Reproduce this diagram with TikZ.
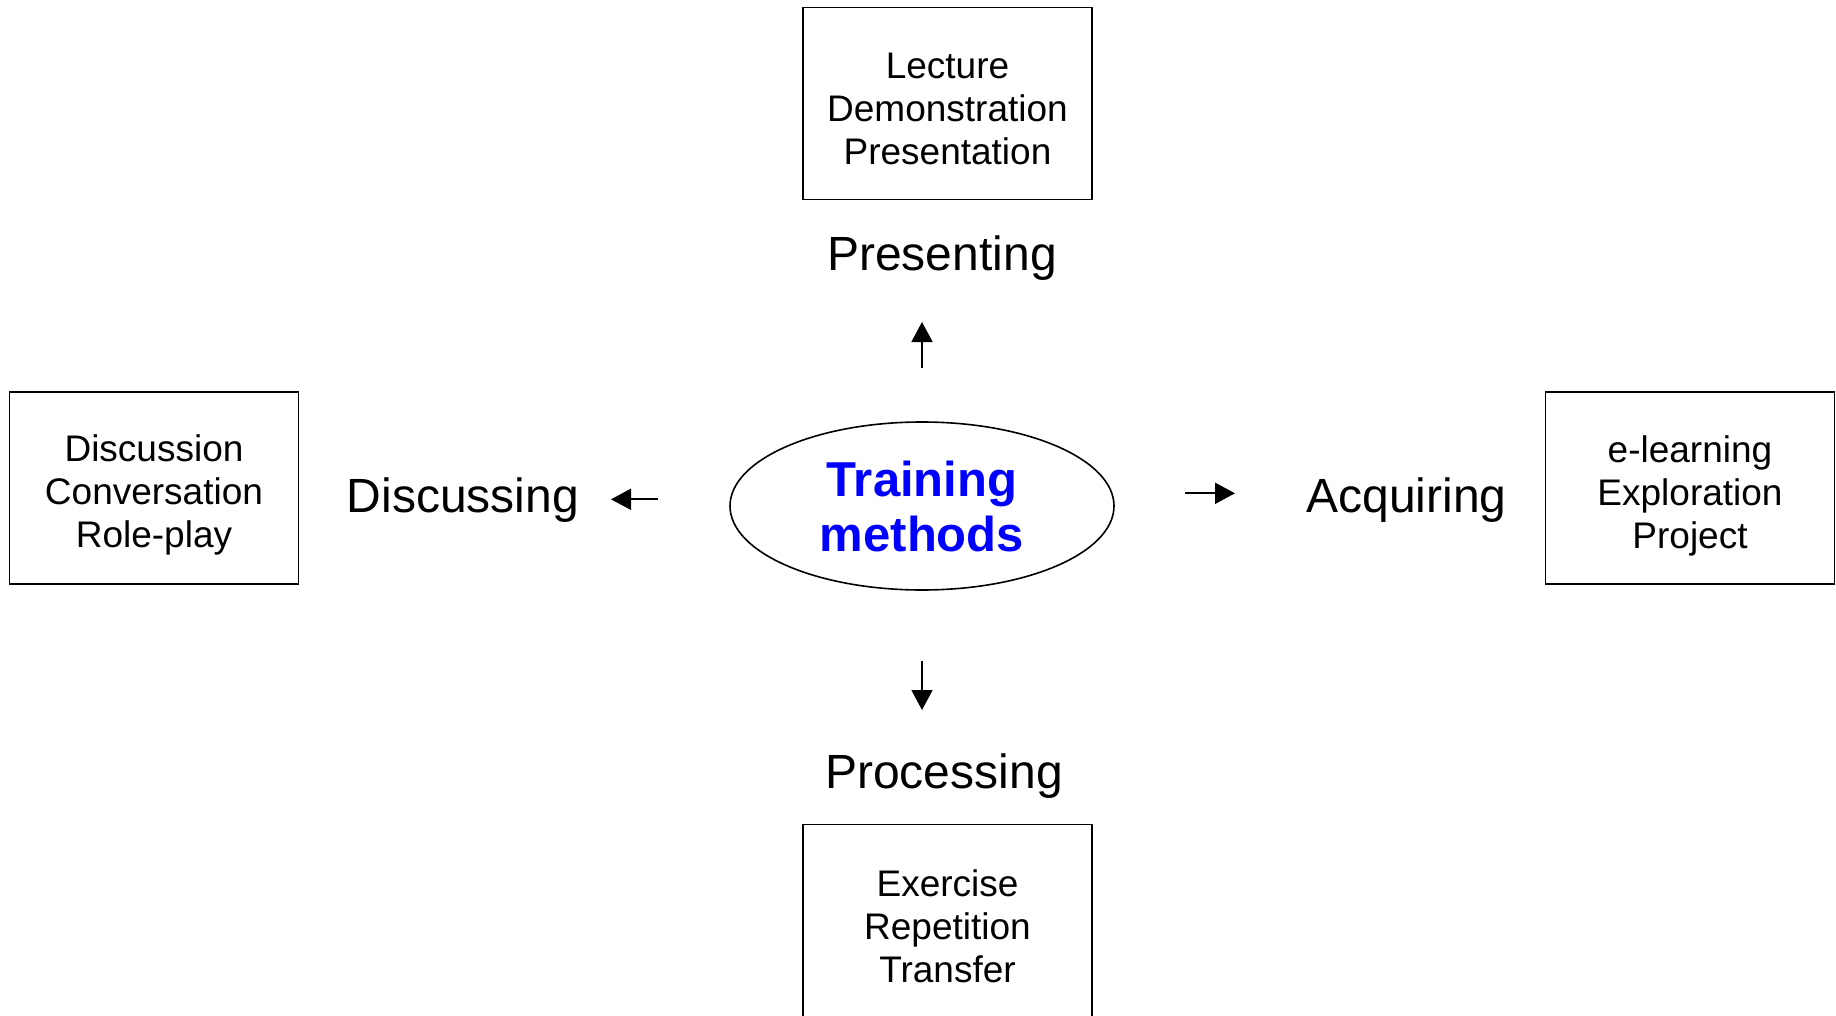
\documentclass[tikz,border=0pt]{standalone}
\usepackage{fontspec}
\setmainfont{Liberation Sans}
\usetikzlibrary{arrows.meta,shapes.geometric}
\definecolor{tblue}{RGB}{0,0,255}
\begin{document}
\begin{tikzpicture}[x=1pt,y=-1pt,
  boxframe/.style={draw,line width=1.6pt,rectangle,minimum width=289pt,minimum height=192pt,inner sep=0pt},
  boxtext/.style={align=center,inner sep=0pt,font=\fontsize{37}{43}\selectfont},
  label/.style={anchor=base,inner sep=0pt,font=\fontsize{48}{52}\selectfont},
  arr/.style={line width=1.8pt,-{Triangle[length=20pt,width=21pt]}}]
\useasboundingbox (0,0) rectangle (1836,1016);
% central ellipse
\node[draw,ellipse,line width=1.6pt,minimum width=384pt,minimum height=168pt,inner sep=0pt,
      align=center,text=tblue,font=\fontsize{49}{55}\selectfont\bfseries] (ell) at (922,506) {Training\\methods};
% boxes
\node[boxframe] (topbox) at (947.5,103.5) {};
\node[boxtext] (toptext) at (947.5,108.5) {Lecture\\Demonstration\\Presentation};
\node[boxframe] (leftbox) at (154,488) {};
\node[boxtext] (lefttext) at (154,495) {Discussion\\Conversation\\Role-play};
\node[boxframe] (rightbox) at (1690,488) {};
\node[boxtext] (righttext) at (1690,496) {e-learning\\Exploration\\Project};
\node[boxframe] (botbox) at (947.5,920.5) {};
\node[boxtext] (bottext) at (947.5,926) {Exercise\\Repetition\\Transfer};
% labels
\node[label] (presenting) at (942,271) {Presenting};
\node[label] (discussing) at (463,512) {Discussing};
\node[label] (acquiring) at (1406.5,512) {Acquiring};
\node[label] (processing) at (944,788) {Processing};
% arrows
\coordinate (up0) at (922,368);
\coordinate (up1) at (922,322);
\coordinate (lf0) at (658,499.3);
\coordinate (lf1) at (611,499.3);
\coordinate (rt0) at (1185,493.3);
\coordinate (rt1) at (1235,493.3);
\coordinate (dn0) at (922,661);
\coordinate (dn1) at (922,710);
\draw[arr] (up0) -- (up1);
\draw[arr] (lf0) -- (lf1);
\draw[arr] (rt0) -- (rt1);
\draw[arr] (dn0) -- (dn1);
\end{tikzpicture}
\end{document}
